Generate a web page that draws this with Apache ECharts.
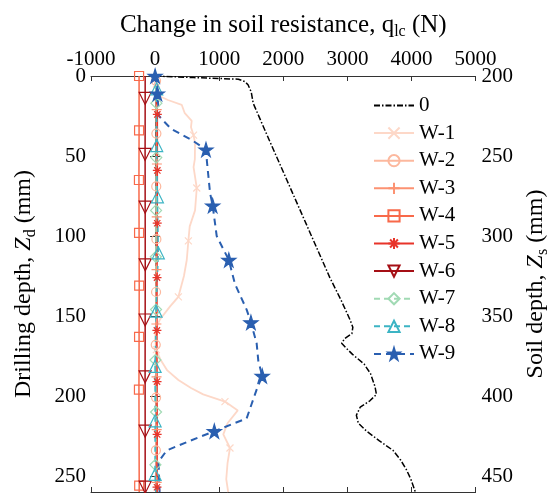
<!DOCTYPE html>
<html>
<head>
<meta charset="utf-8">
<script src="https://cdn.jsdelivr.net/npm/echarts@6/dist/echarts.min.js"></script>
<style>
html, body { margin: 0; padding: 0; background: #fff; }
#main { width: 559px; height: 493px; }
</style>
</head>
<body>
<div id="main"></div>
<script>
var myChart = echarts.init(document.getElementById('main'));

// series names
var names = ['0', 'W-1', 'W-2', 'W-3', 'W-4', 'W-5', 'W-6', 'W-7', 'W-8', 'W-9'];

// baseline "0" (no markers)
var d0 = [0, 1, 2, 3.5, 5.5, 10, 17, 40, 65, 90, 126, 140, 152, 157, 161, 164, 167, 170, 174, 180, 186, 194, 199, 203, 207, 212, 217, 222, 228, 234, 240, 246, 252, 260];
var q0 = [0, 600, 1300, 1400, 1450, 1500, 1530, 1780, 2055, 2330, 2726, 2900, 3037, 3085, 3070, 2960, 2910, 2980, 3080, 3260, 3360, 3430, 3453, 3350, 3200, 3140, 3170, 3300, 3500, 3712, 3830, 3920, 3990, 4060];

var d1 = [0, 5, 12, 15, 18, 23, 28, 32, 37, 42, 52, 57, 70, 84, 94, 103, 115, 125, 138, 144, 152, 159, 168, 171, 177, 184, 190, 195, 199, 203.5, 209, 217, 224, 232.5, 242, 252, 260];
var q1 = [0, 20, 40, 200, 415, 460, 571, 560, 600, 623, 620, 600, 650, 623, 540, 519, 494, 450, 363, 234, 78, 0, 10, 20, 80, 190, 363, 560, 750, 1090, 1290, 1130, 1064, 1168, 1130, 1110, 1140];
var m1 = [5, 37, 70, 103, 138, 171, 203.5, 232.5];

var d2 = [0, 3, 36, 69, 102, 135, 168, 201, 234, 260];
var q2 = [0, 15, 20, 18, 20, 15, 10, 15, 12, 15];
var m2 = [3, 36, 69, 102, 135, 168, 201, 234];

var d3 = [0, 21, 55, 88, 121, 155, 188, 221, 254, 260];
var q3 = [0, 25, 28, 25, 22, 20, 22, 25, 25, 25];
var m3 = [21, 55, 88, 121, 155, 188, 221, 254];

var d4 = [0, 34, 65, 98, 131, 163, 196, 228, 256, 260];
var q4 = [-250, -250, -252, -250, -248, -250, -252, -250, -248, -248];
var m4 = [0, 34, 65, 98, 131, 163, 196, 256];

var d5 = [0, 24, 59, 92, 126, 159, 191, 224, 257, 260];
var q5 = [0, 35, 35, 33, 30, 28, 30, 32, 30, 30];
var m5 = [24, 59, 92, 126, 159, 191, 224, 257];

var d6 = [0, 14, 49, 82, 118, 152.5, 188, 222, 257, 260];
var q6 = [-155, -155, -156, -155, -154, -155, -156, -155, -155, -155];
var m6 = [14, 49, 82, 118, 152.5, 188, 222, 257];

var d7 = [0, 17, 51, 84, 113, 146, 177.5, 210, 243, 260];
var q7 = [0, 20, 18, 15, 12, 15, 5, 15, 5, 10];
var m7 = [17, 51, 84, 113, 146, 177.5, 210, 243];

var d8 = [0, 8, 43.5, 75.5, 110.5, 147, 181.5, 215.5, 249, 260];
var q8 = [0, 25, 25, 36, 50, 15, 0, 0, 0, 10];
var m8 = [8, 43.5, 75.5, 110.5, 147, 181.5, 215.5, 249];

var d9 = [0, 11, 25, 28, 33, 40, 46, 52, 73, 81, 100, 115, 130, 146, 154, 167, 178, 187.5, 196, 205, 214, 222, 228, 234, 241, 250, 260];
var q9 = [0, 36, 60, 130, 250, 570, 794, 805, 857, 898, 961, 1150, 1246, 1428, 1495, 1584, 1610, 1671, 1584, 1506, 1428, 924, 545, 182, 55, 60, 70];
var m9 = [0, 11, 46, 81, 115, 154, 187.5, 222];

var font = 'Liberation Serif, Times New Roman, serif';

var starPath = 'path://M50,0 L61,35 L98,35 L68,57 L79,91 L50,70 L21,91 L32,57 L2,35 L39,35 Z';
var plusPath = 'path://M5,0 L5,10 M0,5 L10,5';
var crossPath = 'path://M0,0 L10,10 M10,0 L0,10';
var asteriskPath = 'path://M5,0 L5,10 M0,5 L10,5 M1.5,1.5 L8.5,8.5 M8.5,1.5 L1.5,8.5';

var build = function (depths, values, marks) {
    var res = [];
    for (var i = 0; i < depths.length; i++) {
        var item = {value: [values[i], depths[i]]};
        if (!marks || marks.indexOf(depths[i]) < 0) item.symbol = 'none';
        res.push(item);
    }
    return res;
};

var makeSeries = function (name, data, color, symbol, size, dash, opts) {
    opts = opts || {};
    return {
        name: name,
        type: 'line',
        data: data,
        symbol: symbol,
        symbolSize: size,
        symbolRotate: opts.rotate || 0,
        lineStyle: {color: color, width: opts.width || 1.5, type: dash || 'solid'},
        itemStyle: {
            color: opts.fill ? color : 'rgba(255,255,255,0)',
            borderColor: color,
            borderWidth: opts.border || 1.2
        },
        emphasis: {disabled: true},
        z: opts.z || 2
    };
};

var sub = {fontFamily: font, fontSize: 16, color: '#000', verticalAlign: 'bottom', padding: [14, 0, 0, 0]};
var it = {fontFamily: font, fontSize: 24, color: '#000', fontStyle: 'italic'};

var axisLine = {show: true, lineStyle: {color: '#333', width: 1}};
var axisTick = {show: true, inside: true, length: 5, lineStyle: {color: '#333'}};
var labelStyle = {fontFamily: font, fontSize: 21, color: '#000', formatter: function (v) { return String(v); }};

// legend entries; the baseline entry has no marker
var legendData = names.map(function (n) {
    return n === '0' ? {name: n, itemStyle: {color: 'rgba(0,0,0,0)', borderWidth: 0, opacity: 0}} : {name: n};
});

option = {
    backgroundColor: '#fff',
    animation: false,
    grid: {left: 91, right: 83, top: 76, bottom: 1},
    legend: {
        orient: 'vertical',
        left: 373,
        top: 95,
        padding: 0,
        itemWidth: 40,
        itemHeight: 14,
        itemGap: 6.6,
        data: legendData,
        textStyle: {fontFamily: font, fontSize: 21, color: '#000', lineHeight: 20}
    },
    xAxis: [
        {
            type: 'value', position: 'top', min: -1000, max: 5000, interval: 1000,
            axisLine: axisLine, axisTick: axisTick, splitLine: {show: false},
            axisLabel: Object.assign({margin: 6}, labelStyle),
            name: 'Change in soil resistance, q{sub|lc} (N)',
            nameLocation: 'middle', nameGap: 36,
            nameTextStyle: {fontFamily: font, fontSize: 25, color: '#000', rich: {sub: sub}}
        },
        {
            type: 'value', position: 'bottom', min: -1000, max: 5000, interval: 1000,
            axisLine: axisLine, axisTick: axisTick, splitLine: {show: false},
            axisLabel: {show: false}
        }
    ],
    yAxis: [
        {
            type: 'value', position: 'left', inverse: true, min: 0, max: 260, interval: 50,
            axisLine: axisLine, axisTick: axisTick, splitLine: {show: false},
            axisLabel: Object.assign({margin: 5, showMaxLabel: false}, labelStyle),
            name: 'Drilling depth, {it|Z}{sub|d} (mm)',
            nameLocation: 'middle', nameGap: 52, nameRotate: 90,
            nameTextStyle: {fontFamily: font, fontSize: 24, color: '#000', rich: {sub: sub, it: it}}
        },
        {
            type: 'value', position: 'right', inverse: true, min: 200, max: 460, interval: 50,
            axisLine: axisLine, axisTick: axisTick, splitLine: {show: false},
            axisLabel: Object.assign({margin: 6, showMaxLabel: false}, labelStyle),
            name: 'Soil depth, {it|Z}{sub|s} (mm)',
            nameLocation: 'middle', nameGap: 43, nameRotate: 90,
            nameTextStyle: {fontFamily: font, fontSize: 24, color: '#000', rich: {sub: sub, it: it}}
        }
    ],
    series: [
        makeSeries('0', build(d0, q0, null), '#000', 'none', 0, [6, 2, 1.5, 2], {width: 1.5}),
        makeSeries('W-1', build(d1, q1, m1), '#fdd8c8', crossPath, 7, 'solid', {width: 1.8}),
        makeSeries('W-2', build(d2, q2, m2), '#fcb89e', 'circle', 9, 'solid'),
        makeSeries('W-3', build(d3, q3, m3), '#fc9272', plusPath, 10, 'solid'),
        makeSeries('W-4', build(d4, q4, m4), '#f8694a', 'rect', 9, 'solid'),
        makeSeries('W-5', build(d5, q5, m5), '#e8342a', asteriskPath, 9, 'solid'),
        makeSeries('W-6', build(d6, q6, m6), '#a50f15', 'triangle', 12, 'solid', {rotate: 180}),
        makeSeries('W-7', build(d7, q7, m7), '#a1dab4', 'diamond', 11, [6, 4]),
        makeSeries('W-8', build(d8, q8, m8), '#3cb4c4', 'triangle', 12, [6, 4]),
        makeSeries('W-9', build(d9, q9, m9), '#2a5fb0', starPath, 14, [7, 5], {fill: true, width: 2})
    ]
};

myChart.setOption(option);
</script>
</body>
</html>
